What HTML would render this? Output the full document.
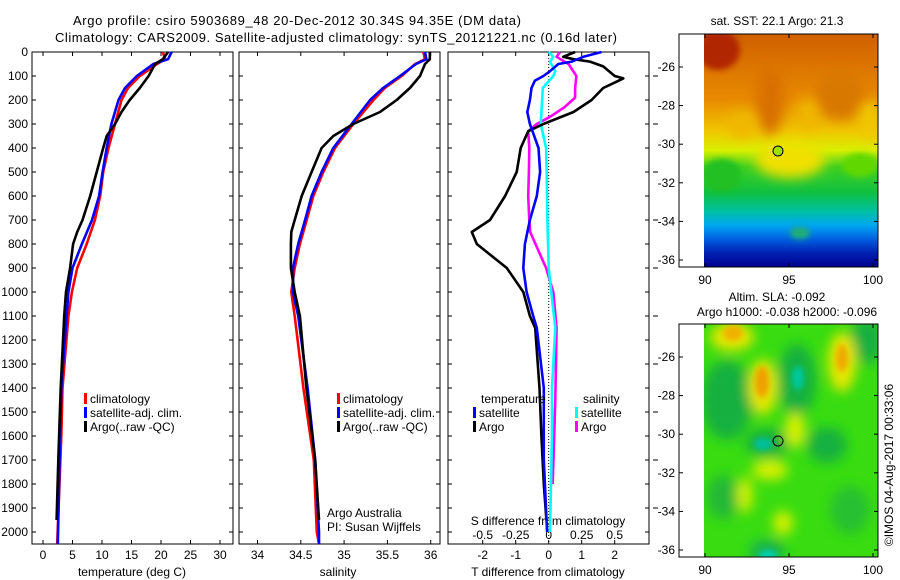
<!DOCTYPE html>
<html><head><meta charset="utf-8"><style>
html,body{margin:0;padding:0;background:#fff;}
svg{display:block;font-family:"Liberation Sans",sans-serif;}
</style></head><body>
<svg id="chart" width="900" height="580" viewBox="0 0 900 580" xmlns="http://www.w3.org/2000/svg">
<defs>
<filter id="blur6" x="-50%" y="-50%" width="200%" height="200%"><feGaussianBlur stdDeviation="6"/></filter>
<filter id="blur3" x="-50%" y="-50%" width="200%" height="200%"><feGaussianBlur stdDeviation="3"/></filter>
<linearGradient id="sstGrad" x1="0" y1="0" x2="0" y2="1">
<stop offset="0" stop-color="#d06000"/><stop offset="0.28" stop-color="#e88a00"/><stop offset="0.42" stop-color="#f0c800"/>
<stop offset="0.5" stop-color="#d8f000"/><stop offset="0.57" stop-color="#40d020"/><stop offset="0.68" stop-color="#10c040"/>
<stop offset="0.76" stop-color="#00c0a0"/><stop offset="0.82" stop-color="#00a8f0"/><stop offset="0.88" stop-color="#0060e0"/>
<stop offset="0.94" stop-color="#0020b0"/><stop offset="1" stop-color="#000090"/></linearGradient>
<clipPath id="clipTop"><rect x="704" y="34" width="174" height="233"/></clipPath>
<clipPath id="clipBot"><rect x="704" y="324" width="174" height="233"/></clipPath>
</defs>
<text x="73" y="25" font-size="13" textLength="448">Argo profile: csiro 5903689_48 20-Dec-2012 30.34S 94.35E (DM data)</text>
<text x="55" y="42" font-size="13" textLength="562">Climatology: CARS2009. Satellite-adjusted climatology: synTS_20121221.nc (0.16d later)</text>
<g id="panels"></g>

<!-- top map -->
<g>
<g clip-path="url(#clipTop)">
<rect x="704" y="34" width="174" height="233" fill="url(#sstGrad)"/>
<ellipse cx="718" cy="50" rx="22" ry="20" fill="#b02800" filter="url(#blur3)"/>
<ellipse cx="770" cy="100" rx="14" ry="35" fill="#d87000" filter="url(#blur6)"/>
<ellipse cx="840" cy="95" rx="25" ry="25" fill="#d87800" filter="url(#blur6)"/>
<ellipse cx="742" cy="125" rx="14" ry="14" fill="#f0b800" filter="url(#blur6)"/>
<ellipse cx="808" cy="115" rx="10" ry="18" fill="#f0b800" filter="url(#blur6)"/>
<ellipse cx="870" cy="120" rx="10" ry="20" fill="#f0c800" filter="url(#blur6)"/>
<ellipse cx="790" cy="160" rx="35" ry="18" fill="#f0e000" filter="url(#blur6)"/>
<ellipse cx="722" cy="175" rx="20" ry="16" fill="#20c020" filter="url(#blur3)"/>
<ellipse cx="860" cy="165" rx="18" ry="12" fill="#60d800" filter="url(#blur3)"/>
<ellipse cx="800" cy="233" rx="10" ry="6" fill="#20b070" filter="url(#blur3)"/>
</g>
<rect x="679" y="34" width="199" height="233" fill="none" stroke="#000"/>
<circle cx="778" cy="151" r="5" fill="#a0e000" stroke="#000"/>
<text x="777" y="25" font-size="12" text-anchor="middle">sat. SST: 22.1 Argo: 21.3</text>
</g>

<!-- bottom map -->
<g>
<g clip-path="url(#clipBot)">
<rect x="704" y="324" width="174" height="233" fill="#38dc10"/>
<g filter="url(#blur6)">
<ellipse cx="727" cy="400" rx="26" ry="40" fill="#18b040"/>
<ellipse cx="797" cy="380" rx="19" ry="36" fill="#18b040"/>
<ellipse cx="867" cy="340" rx="16" ry="24" fill="#18b040"/>
<ellipse cx="767" cy="443" rx="22" ry="14" fill="#18b040"/>
<ellipse cx="827" cy="445" rx="20" ry="18" fill="#18b040"/>
<ellipse cx="723" cy="497" rx="16" ry="22" fill="#20b838"/>
<ellipse cx="850" cy="510" rx="20" ry="24" fill="#28c030"/>
<ellipse cx="767" cy="552" rx="18" ry="12" fill="#18b050"/>
<ellipse cx="732" cy="337" rx="22" ry="14" fill="#e8e800"/>
<ellipse cx="763" cy="387" rx="14" ry="28" fill="#e8e800"/>
<ellipse cx="842" cy="362" rx="14" ry="30" fill="#e8e800"/>
<ellipse cx="795" cy="430" rx="10" ry="18" fill="#d8f000"/>
<ellipse cx="770" cy="470" rx="18" ry="10" fill="#d8f000"/>
<ellipse cx="745" cy="495" rx="8" ry="18" fill="#d0f000"/>
<ellipse cx="783" cy="523" rx="10" ry="12" fill="#d8f000"/>
</g>
<g filter="url(#blur3)">
<ellipse cx="733" cy="333" rx="10" ry="8" fill="#f0b000"/>
<ellipse cx="762" cy="382" rx="7" ry="16" fill="#f0a000"/>
<ellipse cx="842" cy="358" rx="6" ry="14" fill="#f0a800"/>
<ellipse cx="798" cy="378" rx="6" ry="12" fill="#00c8a0"/>
<ellipse cx="763" cy="444" rx="9" ry="6" fill="#00c0a0"/>
<ellipse cx="768" cy="556" rx="9" ry="6" fill="#00d0b0"/>
</g>
</g>
<rect x="679" y="324" width="199" height="233" fill="none" stroke="#000"/>
<circle cx="778" cy="441" r="5" fill="none" stroke="#000"/>
<text x="777" y="301" font-size="12" text-anchor="middle">Altim. SLA: -0.092</text>
<text x="787" y="316" font-size="12" text-anchor="middle">Argo h1000: -0.038 h2000: -0.096</text>
</g>
<text x="0" y="0" font-size="12" text-anchor="middle" transform="translate(893,465) rotate(-90)">©IMOS 04-Aug-2017 00:33:06</text>
<g id="mapaxes"></g>
</svg>
<script>
// ---------- data ----------
const pTemp = [0,30,50,100,150,200,300,400,500,600,700,800,900,1000,1100,1400,1600,2050];
const tempClim = [20.3,20.7,19.3,16.4,14.4,13.3,12.2,11.1,10.2,9.7,8.8,7.4,5.8,4.9,4.3,3.3,3.1,2.4];
const tempSat  = [21.8,21.2,18.7,15.9,13.9,12.8,11.6,10.8,10.1,9.5,8.3,6.6,5.0,4.3,4.0,3.1,2.9,2.5];
const pTempArgo = [0,30,50,100,150,200,250,300,350,400,500,600,700,750,800,900,1000,1100,1400,1700,1950];
const tempArgo = [21.2,20.3,19.0,17.9,16.4,14.7,13.3,12.2,10.8,10.2,9.1,8.0,6.7,5.8,5.1,4.6,3.9,3.6,3.0,2.6,2.3];
const pSal = [0,30,50,100,150,200,300,400,500,600,700,800,900,1000,1100,1400,1700,2000,2050];
const salClim = [35.914,35.934,35.82,35.665,35.47,35.34,35.106,34.895,34.76,34.644,34.568,34.49,34.43,34.39,34.43,34.53,34.65,34.685,34.71];
const salSat  = [35.934,35.95,35.83,35.645,35.45,35.30,35.087,34.875,34.74,34.625,34.55,34.47,34.41,34.41,34.47,34.578,34.666,34.71,34.71];
const pSalArgo = [0,30,50,100,150,200,250,300,350,400,500,600,700,750,800,900,1000,1100,1400,1700,1950];
const salArgo = [35.99,35.99,35.934,35.876,35.76,35.607,35.414,35.106,34.875,34.74,34.625,34.51,34.43,34.39,34.386,34.386,34.43,34.49,34.565,34.666,34.71];
const pTdSat = [0,20,40,50,80,100,120,150,200,250,300,400,500,600,700,800,900,1000,1100,1150,1400,1700,2000];
const tDiffSat = [1.6,1.05,0.7,0.29,0.04,-0.16,-0.42,-0.52,-0.57,-0.65,-0.57,-0.31,-0.26,-0.36,-0.57,-0.72,-0.77,-0.67,-0.47,-0.36,-0.15,-0.15,-0.05];
const pTdArgo = [0,20,30,40,60,100,110,130,150,200,250,300,330,400,500,600,700,750,800,900,1000,1100,1150,1400,1600,1800,1950];
const tDiffArgo = [0.8,0.44,0.75,1.25,1.65,2.0,2.26,1.96,1.65,1.3,0.75,-0.16,-0.62,-0.85,-0.97,-1.32,-1.78,-2.33,-2.18,-1.27,-0.77,-0.57,-0.41,-0.28,-0.22,-0.15,-0.07];
const pSdSat = [0,20,40,80,100,150,200,300,400,500,700,900,1000,1150,1400,1600,2000];
const sDiffSat = [0.0,0.035,0.01,0.05,0.035,-0.045,-0.05,-0.06,-0.02,-0.015,-0.01,0.0,0.02,0.05,0.025,0.025,0.01];
const pSdArgo = [0,20,50,100,150,190,230,270,300,330,400,500,600,700,750,800,900,1000,1150,1450,1800];
const sDiffArgo = [0.085,0.06,0.15,0.21,0.2,0.2,0.12,0.01,-0.09,-0.155,-0.147,-0.15,-0.155,-0.147,-0.14,-0.10,-0.02,0.035,0.06,0.05,0.03];
const pTicks = [0,100,200,300,400,500,600,700,800,900,1000,1100,1200,1300,1400,1500,1600,1700,1800,1900,2000];
const tempTicks = [0,5,10,15,20,25,30];
const salTicks = [34,34.5,35,35.5,36];
const salTickLabels = ["34","34.5","35","35.5","36"];
const tdTicks = [-2,-1,0,1,2];
const sdTicks = [-0.5,-0.25,0,0.25,0.5];
const sdTickLabels = ["-0.5","-0.25","0","0.25","0.5"];
const latTicks = [-26,-28,-30,-32,-34,-36];
const lonTicks = [90,95,100];

// ---------- axes ----------
const NS='http://www.w3.org/2000/svg';
const yTop=52, yBot=544;
const yScale = p => yTop + p*0.24;
const xTemp = t => 43 + (t)*5.9;
const xSal = s => 257.5 + (s-34)*86.6;
const xTd = d => 548.7 + d*33;
const xSd = d => 548.7 + d*132;
const g = document.getElementById('panels');
function el(tag, attrs, parent){const e=document.createElementNS(NS,tag);for(const k in attrs)e.setAttribute(k,attrs[k]);(parent||g).appendChild(e);return e;}
function txt(s, attrs, parent){const e=el('text',attrs,parent);e.textContent=s;return e;}

const panels=[{x0:32,x1:233,name:'temperature-panel'},{x0:239,x1:440,name:'salinity-panel'},{x0:448,x1:649,name:'difference-panel'}];
panels.forEach(pn=>{
  const r=el('rect',{x:pn.x0,y:yTop,width:pn.x1-pn.x0,height:yBot-yTop,fill:'none',stroke:'#000'});
  
  
  pTicks.forEach(p=>{
    const y=yScale(p);
    el('line',{x1:pn.x0,x2:pn.x0+4,y1:y,y2:y,stroke:'#000'});
    el('line',{x1:pn.x1,x2:pn.x1-4,y1:y,y2:y,stroke:'#000'});
  });
});
pTicks.forEach(p=>{
  const t=txt(String(p),{x:28,y:yScale(p)+4,'font-size':12,'text-anchor':'end'});
  
  
});
function xTicks(vals, fx, labels, ly){
  vals.forEach((v,i)=>{
    const x=fx(v);
    el('line',{x1:x,x2:x,y1:yTop,y2:yTop+4,stroke:'#000'});
    el('line',{x1:x,x2:x,y1:yBot,y2:yBot-4,stroke:'#000'});
    if(labels){
      const t=txt(labels[i],{x:x,y:ly,'font-size':12,'text-anchor':'middle'});
      
      
    }
  });
}
xTicks(tempTicks,xTemp,tempTicks.map(String),559);
xTicks(salTicks,xSal,salTickLabels,559);
xTicks(tdTicks,xTd,tdTicks.map(String),559);
sdTicks.forEach((v,i)=>{
  const t=txt(sdTickLabels[i],{x:xSd(v),y:539,'font-size':12,'text-anchor':'middle'});
  
  
});
[['temperature (deg C)',132,'x-axis-title-temperature'],['salinity',338,'x-axis-title-salinity'],['T difference from climatology',548,'x-axis-title-t-diff']].forEach(a=>{
  const t=txt(a[0],{x:a[1],y:576,'font-size':12,'text-anchor':'middle'});
  
  
});
const sdt=txt('S difference from climatology',{x:548,y:525,'font-size':12,'text-anchor':'middle'});


const zl=el('line',{x1:xTd(0),x2:xTd(0),y1:yTop,y2:yBot,stroke:'#000','stroke-dasharray':'1,2'});


pTicks.filter((p,i)=>i%2===1).forEach(p=>{el('line',{x1:653,x2:658,y1:yScale(p),y2:yScale(p),stroke:'#000'});});

function series(ps, vals, fx, color, name){
  const pts=ps.map((p,i)=>fx(vals[i]).toFixed(1)+','+yScale(p).toFixed(1)).join(' ');
  const pl=el('polyline',{points:pts,fill:'none',stroke:color,'stroke-width':2.6,'stroke-linejoin':'round'});
  
  
}
series(pTemp,tempClim,xTemp,'#ff0000','temp-climatology-line');
series(pTemp,tempSat,xTemp,'#0000ff','temp-satellite-line');
series(pTempArgo,tempArgo,xTemp,'#000000','temp-argo-line');
series(pSal,salClim,xSal,'#ff0000','sal-climatology-line');
series(pSal,salSat,xSal,'#0000ff','sal-satellite-line');
series(pSalArgo,salArgo,xSal,'#000000','sal-argo-line');
series(pSdArgo,sDiffArgo,xSd,'#ff00ff','s-diff-argo-line');
series(pSdSat,sDiffSat,xSd,'#00ffff','s-diff-satellite-line');
series(pTdArgo,tDiffArgo,xTd,'#000000','t-diff-argo-line');
series(pTdSat,tDiffSat,xTd,'#0000ff','t-diff-satellite-line');

function legend(x,y,color,label){
  const r=el('rect',{x:x,y:y-10,width:3,height:11,fill:color});
  
  
  const t=txt(label,{x:x+6,y:y,'font-size':12});
  
  
}
[[84,'#ff0000','climatology'],[84,'#0000ff','satellite-adj. clim.'],[84,'#000000','Argo(..raw -QC)']].forEach((a,i)=>legend(a[0],403+i*14,a[1],a[2]));
[[337,'#ff0000','climatology'],[337,'#0000ff','satellite-adj. clim.'],[337,'#000000','Argo(..raw -QC)']].forEach((a,i)=>legend(a[0],403+i*14,a[1],a[2]));
txt('temperature',{x:481,y:403,'font-size':12});
txt('salinity',{x:583,y:403,'font-size':12});
legend(473,417,'#0000ff','satellite');
legend(473,431,'#000000','Argo');
legend(575,417,'#00ffff','satellite');
legend(575,431,'#ff00ff','Argo');
const aa=txt('Argo Australia',{x:327,y:517,'font-size':12});


const pi=txt('PI: Susan Wijffels',{x:327,y:531,'font-size':12});



const ma=document.getElementById('mapaxes');
[[34,267,67],[324,557,357]].forEach(m=>{
  latTicks.forEach(lat=>{
    const y=m[2]+(-26-lat)*19.3;
    el('line',{x1:679,x2:683,y1:y,y2:y,stroke:'#000'},ma);
    el('line',{x1:878,x2:874,y1:y,y2:y,stroke:'#000'},ma);
    const t=txt(String(lat),{x:675,y:y+4,'font-size':12,'text-anchor':'end'},ma);
    
    
  });
  lonTicks.forEach(lon=>{
    const x=705+(lon-90)*16.8;
    el('line',{x1:x,x2:x,y1:m[0],y2:m[0]+4,stroke:'#000'},ma);
    el('line',{x1:x,x2:x,y1:m[1],y2:m[1]-4,stroke:'#000'},ma);
    const t=txt(String(lon),{x:x,y:m[1]+17,'font-size':12,'text-anchor':'middle'},ma);
    
    
  });
});
</script>
</body></html>
